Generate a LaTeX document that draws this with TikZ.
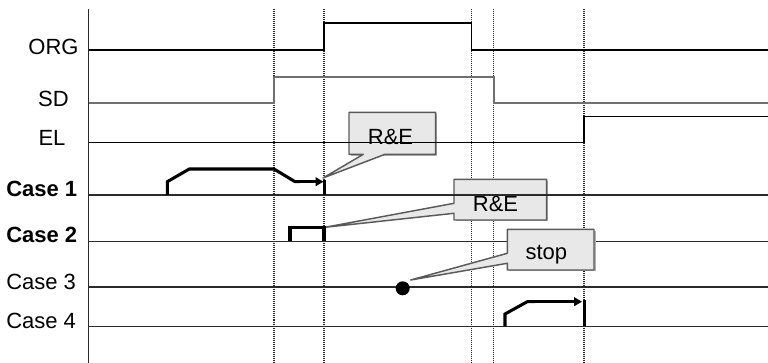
\documentclass[tikz,border=0pt]{standalone}
\usepackage{fontspec}
\setmainfont{Liberation Sans}
\usetikzlibrary{arrows.meta}
\definecolor{boxfill}{HTML}{E8E8E8}
\definecolor{boxline}{HTML}{5A5A5A}
\definecolor{sdgray}{HTML}{707070}
\definecolor{linegray}{HTML}{2A2A2A}
\tikzset{
  lbl/.style={anchor=base, inner sep=0pt, font=\fontsize{16.5}{18}\selectfont},
  caselbl/.style={anchor=base west, inner sep=0pt, font=\fontsize{16.5}{18}\selectfont},
  grid/.style={draw=black!85, line width=0.8pt, dash pattern=on 0.75pt off 0.75pt},
  sig/.style={draw=black, line width=1pt},
  sdsig/.style={draw=sdgray, line width=1.5pt},
  base/.style={draw=linegray, line width=1pt},
  prof/.style={draw=black, line width=2.3pt, line join=miter},
  callout/.style={fill=boxfill, draw=boxline, line width=1.1pt, line join=round},
  shadow/.style={fill=black!30, draw=none},
  tip/.style={-{Triangle[length=6pt,width=6.5pt]}}
}
\begin{document}
\begin{tikzpicture}[x=0.75pt,y=-0.75pt]
\useasboundingbox (0,0) rectangle (768,363);
% dotted time markers
\foreach \xx/\nm in {274/ta,324/tb,471.7/tc,493.7/td,584/te}{
  \coordinate (\nm top) at (\xx,9.5);
  \coordinate (\nm bot) at (\xx,363);
  \draw[grid] (\nm top) -- (\nm bot);
}
% vertical axis
\coordinate (axtop) at (88.5,9.3);
\coordinate (axbot) at (88.5,363);
\draw[base, line width=1.1pt] (axtop) -- (axbot);

% callout boxes R&E (under the signal lines)
\fill[shadow] (350.5,113.8) -- (437.2,113.8) -- (437.2,155.8) -- (350.5,155.8) -- cycle;
\path[callout] (349,112.3) -- (435.7,112.3) -- (435.7,154.3) -- (385,154.3) -- (323,178) -- (363.3,154.3) -- (349,154.3) -- cycle;
\node[lbl] (re1) at (390.5,145) {R\&E};
\fill[shadow] (455.5,180.8) -- (548.2,180.8) -- (548.2,221.5) -- (455.5,221.5) -- cycle;
\path[callout] (454,179.3) -- (546.7,179.3) -- (546.7,220) -- (454,220) -- (454,213.3) -- (325,227.3) -- (454,203.3) -- cycle;
\node[lbl] (re2) at (495.5,211.7) {R\&E};

% signal traces
\draw[sig] (88.5,50) -- (324,50) -- (324,23) -- (471.7,23) -- (471.7,50) -- (768,50);
\draw[sdsig] (88.5,103.3) -- (274,103.3) -- (274,76.7) -- (493.7,76.7) -- (493.7,103.3) -- (768,103.3);
\draw[sig] (88.5,142.3) -- (584,142.3) -- (584,116.7) -- (768,116.7);
\draw[base] (88.5,195) -- (768,195);
\draw[base] (88.5,241.3) -- (768,241.3);
\draw[base] (88.5,287) -- (768,287);
\draw[base] (88.5,326.3) -- (768,326.3);

% stop callout (over Case 2 line)
\fill[shadow] (508.8,230.8) -- (595.5,230.8) -- (595.5,271.5) -- (508.8,271.5) -- cycle;
\path[callout] (507.3,229.3) -- (594,229.3) -- (594,270) -- (507.3,270) -- (507.3,263.3) -- (410.7,280) -- (507.3,253.3) -- cycle;
\node[lbl] (stp) at (546.3,259.3) {stop};

% labels
\node[lbl] (org) at (53.5,54.2) {ORG};
\node[lbl] (sd) at (53.5,107) {SD};
\node[lbl] (el) at (52,146) {EL};
\node[caselbl, font=\fontsize{16.5}{18}\selectfont\bfseries] (c1) at (6,196.5) {Case 1};
\node[caselbl, font=\fontsize{16.5}{18}\selectfont\bfseries] (c2) at (6,243) {Case 2};
\node[caselbl] (c3) at (6,289.8) {Case 3};
\node[caselbl] (c4) at (6,328.8) {Case 4};

% Case 1 profile
\draw[prof] (167.3,195) -- (167.3,181.7) -- (189.3,169) -- (274,169) -- (295,181.7) -- (300,181.7);
\draw[prof, tip] (299,181.7) -- (323.5,181.7);
\draw[prof] (324.5,180.5) -- (324.5,195);
% Case 2 profile
\draw[prof] (290,241.3) -- (290,227.3) -- (324,227.3) -- (324,241.3);
% Case 3 stop point
\node[circle, fill=black, inner sep=0pt, minimum size=10.5pt] (dot) at (402.7,288.3) {};
% Case 4 profile
\draw[prof] (505,326.3) -- (505,314) -- (527.3,301.7) -- (535,301.7);
\draw[prof, tip] (534,301.7) -- (582,301.7);
\draw[prof] (584.3,300.5) -- (584.3,326.3);
\end{tikzpicture}
\end{document}
